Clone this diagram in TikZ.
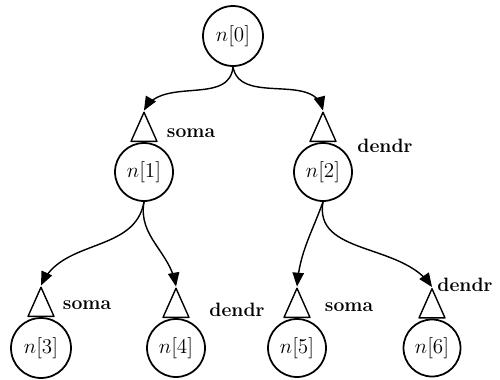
\documentclass[tikz,border=0pt]{standalone}
\usepackage{amsmath}
\usetikzlibrary{arrows,positioning,shapes.geometric}

\begin{document}
\begin{tikzpicture}[line cap=round,line join=round,>=triangle 45,x=0.02cm,y=-0.02cm,
	nd/.style={draw,circle,line width=1pt,minimum size=1.16cm,inner sep=0pt,font=\fontsize{13}{15}\selectfont},
	tri/.style={draw,isosceles triangle,shape border rotate=90,isosceles triangle apex angle=48,
		minimum height=0.58cm,minimum width=0.52cm,inner sep=0pt,line width=0.8pt},
	lbl/.style={font=\fontsize{11}{13}\selectfont\bfseries},
	edge/.style={->,line width=0.8pt}]
	\useasboundingbox (0,0) rectangle (500,379);
	\node[nd,minimum size=1.2cm] (n0) at (233,36) {$n[0]$};
	\node[nd] (n1) at (144,172) {$n[1]$};
	\node[nd] (n2) at (323,172) {$n[2]$};
	\node[nd,minimum size=1.2cm] (n3) at (41,348) {$n[3]$};
	\node[nd,minimum size=1.16cm] (n4) at (176,348) {$n[4]$};
	\node[nd,minimum size=1.16cm] (n5) at (297,348) {$n[5]$};
	\node[nd,minimum size=1.14cm] (n6) at (432,348) {$n[6]$};
	\node[tri,above=0pt of n1] (t1) {};
	\node[tri,above=0pt of n2] (t2) {};
	\node[tri,above=0pt of n3] (t3) {};
	\node[tri,above=0pt of n4] (t4) {};
	\node[tri,above=0pt of n5] (t5) {};
	\node[tri,above=0pt of n6] (t6) {};
	\node[lbl] (l1) at (191,133) {soma};
	\node[lbl] (l2) at (385,146) {dendr};
	\node[lbl] (l3) at (87,305) {soma};
	\node[lbl] (l4) at (237,310) {dendr};
	\node[lbl] (l5) at (349,307) {soma};
	\node[lbl] (l6) at (465,285) {dendr};
	\draw[edge] (n0.south) to[out=-95,in=60] (t1.north);
	\draw[edge] (n0.south) to[out=-80,in=105] (t2.north);
	\draw[edge] (n1.south) to[out=-100,in=65] (t3.north);
	\draw[edge] (n1.south) to[out=-100,in=100] (t4.north);
	\draw[edge] (n2.south) to[out=-110,in=85] (t5.north);
	\draw[edge] (n2.south) to[out=-100,in=125] (t6.north);
\end{tikzpicture}
\end{document}
